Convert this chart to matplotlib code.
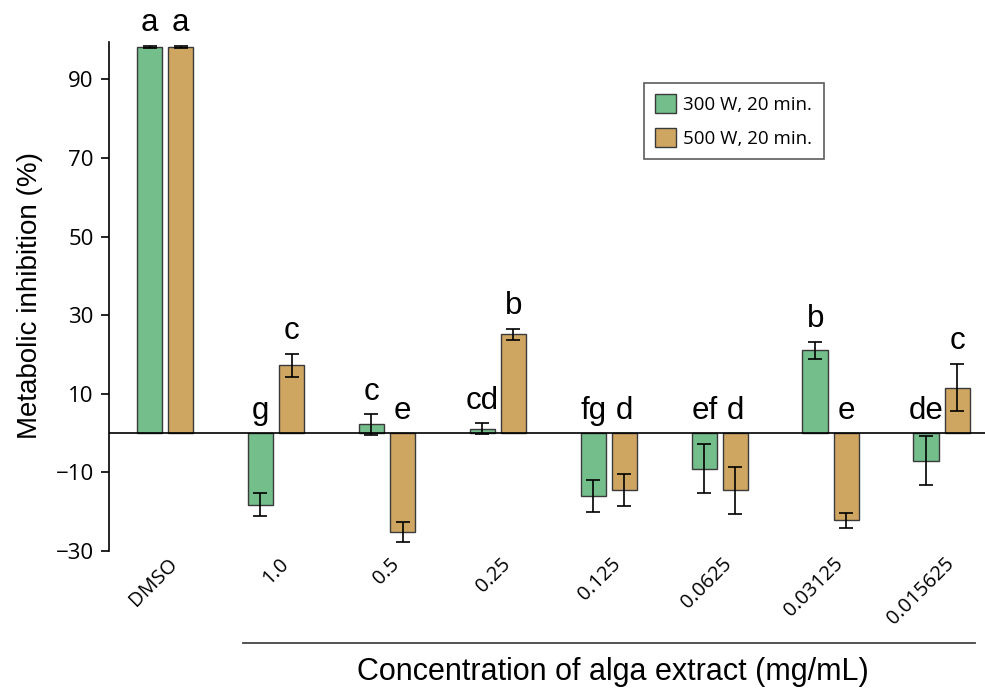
import numpy as np
import matplotlib
matplotlib.use('Agg')
from matplotlib import pyplot as plt
from matplotlib.lines import Line2D

# concentrations (mg/mL) and the two treatments
labels = ['DMSO', '1.0', '0.5', '0.25', '0.125', '0.0625', '0.03125', '0.015625']
w300 = [98.2, -18.2, 2.2, 1.1, -16.0, -9.0, 21.1, -7.0]
w300_err = [0.3, 2.9, 2.6, 1.4, 4.0, 6.2, 2.2, 6.3]
w500 = [98.2, 17.2, -25.2, 25.2, -14.5, -14.5, -22.2, 11.6]
w500_err = [0.3, 3.0, 2.6, 1.4, 4.0, 6.0, 2.0, 6.0]
letters300 = ['a', 'g', 'c', 'cd', 'fg', 'ef', 'b', 'de']
letters500 = ['a', 'c', 'e', 'b', 'd', 'd', 'e', 'c']

green = '#74BE8C'
orange = '#CFA562'

fig = plt.figure(figsize=(9.85, 6.88), dpi=100)
ax = fig.add_axes([0.1107, 0.199, 0.8893, 0.743])

x = np.arange(len(labels))
bw = 0.23
off = 0.14

ax.bar(x - off, w300, bw, color=green, edgecolor='#3a3a3a', linewidth=1.0,
       yerr=w300_err, capsize=5, error_kw=dict(ecolor='black', elinewidth=1.2, capthick=1.2),
       label='300 W, 20 min.', zorder=2)
ax.bar(x + off, w500, bw, color=orange, edgecolor='#3a3a3a', linewidth=1.0,
       yerr=w500_err, capsize=5, error_kw=dict(ecolor='black', elinewidth=1.2, capthick=1.2),
       label='500 W, 20 min.', zorder=2)

ax.axhline(0, color='black', linewidth=1.2, zorder=3)

# significance letters
for xs, vals, errs, lets in [(x - off, w300, w300_err, letters300),
                             (x + off, w500, w500_err, letters500)]:
    for xi, v, e, l in zip(xs, vals, errs, lets):
        top = v + e if v > 0 else 0
        ax.text(xi, top + 3.7, l, ha='center', va='baseline',
                fontsize=22.5, family='Liberation Sans')

ax.set_xlim(-0.505, 7.39)
ax.set_ylim(-30, 100)
ax.set_yticks([-30, -10, 10, 30, 50, 70, 90])
ax.set_yticklabels(['\u221230', '\u221210', '10', '30', '50', '70', '90'],
                   family='Open Sans', fontsize=16)
ax.tick_params(axis='y', length=6, width=1.2, pad=5)
ax.spines['left'].set_bounds(-30, 99.5)
ax.spines['left'].set_linewidth(1.2)
for s in ['top', 'right', 'bottom']:
    ax.spines[s].set_visible(False)

ax.set_xticks(x + 0.02)
ax.set_xticklabels(labels, rotation=45, ha='right', rotation_mode='anchor',
                   family='Open Sans', fontsize=14.5)
ax.tick_params(axis='x', length=0, pad=2)

ax.set_ylabel('Metabolic inhibition (%)', family='Liberation Sans', fontsize=20, labelpad=9)

leg = ax.legend(loc='upper left', bbox_to_anchor=(0.600, 0.935), frameon=True, fancybox=False,
                prop={'family': 'Open Sans', 'size': 13.5}, handlelength=1.1, handleheight=1.2,
                handletextpad=0.4, borderpad=0.6, labelspacing=0.75)
leg.get_frame().set_edgecolor('#333333')
leg.get_frame().set_linewidth(1.2)

# bracket-style line above the x-axis title
fig.add_artist(Line2D([243 / 985, 975 / 985], [1 - 643 / 688, 1 - 643 / 688],
                      color='#444444', linewidth=1.3))
fig.text(613 / 985, 1 - 672 / 688, 'Concentration of alga extract (mg/mL)',
         ha='center', va='center', family='Liberation Sans', fontsize=22)

fig.savefig('out.png', dpi=100)
